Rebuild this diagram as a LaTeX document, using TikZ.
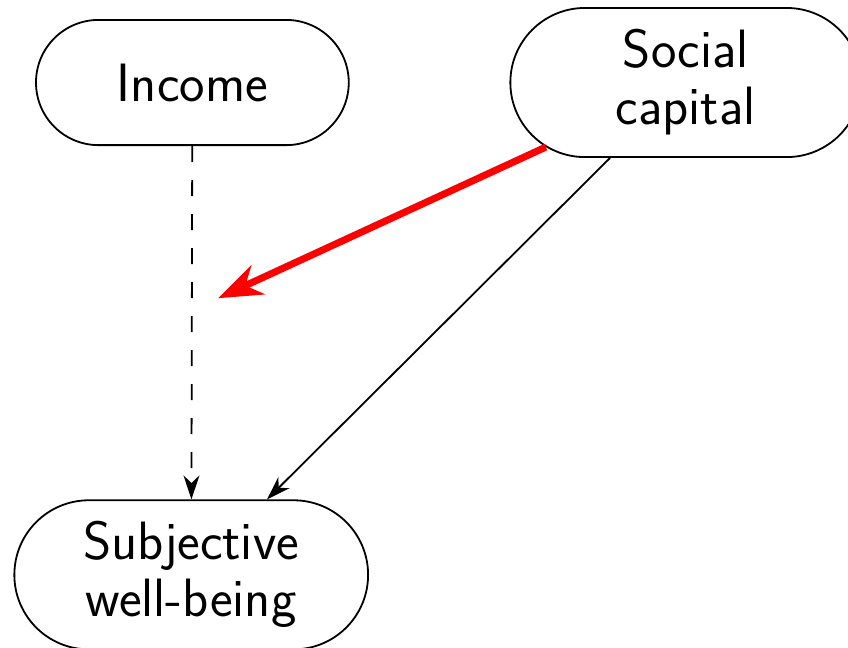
\documentclass[tikz,border=0pt]{standalone}
\usepackage{fontspec}
\usetikzlibrary{shapes.misc,arrows.meta}

\begin{document}
\begin{tikzpicture}[
    factor/.style={draw=black, rounded rectangle, line width=0.9pt, align=center,
                   font=\sffamily\fontsize{27}{28.5}\selectfont, text=black},
    link/.style={draw=black, line width=0.9pt, -{Stealth[length=12pt, width=8pt]}},
    effect/.style={draw=red, line width=3.5pt, -{Stealth[length=22pt, width=16pt, inset=7pt]}},
]

\useasboundingbox (0, 0) rectangle (14.90, -11.37);

% Factors
\node[factor, minimum width=5.73cm, minimum height=2.20cm] (inc) at (3.38, -1.45) {Income};
\node[factor, minimum width=6.40cm, minimum height=2.62cm] (soc) at (12.05, -1.45) {Social\\capital};
\node[factor, minimum width=6.45cm, minimum height=2.62cm] (swb) at (3.36, -10.10) {Subjective\\well-being};

% Moderation target
\coordinate (mod) at (3.83, -5.24);

% Paths
\draw[link, dash pattern=on 8pt off 9pt] (inc) -- (swb);
\draw[link] (soc) -- (swb);
\draw[effect] (soc) -- (mod);

\end{tikzpicture}
\end{document}
